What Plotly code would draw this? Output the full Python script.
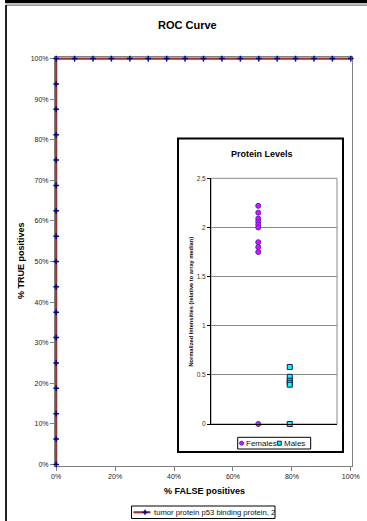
import plotly.graph_objects as go

# ---- data ----
roc_fpr = [0.0] * 17 + [i / 16 for i in range(1, 17)]
roc_tpr = [i / 16 for i in range(17)] + [1.0] * 16
roc_name = "tumor protein p53 binding protein, 2"

female_vals = [2.22, 2.15, 2.09, 2.06, 2.03, 2.00, 1.85, 1.80, 1.75, 0.0]
male_vals = [0.58, 0.48, 0.44, 0.42, 0.40, 0.0]
group_names = ["Females", "Males"]
group_pos = [1, 2]

x_ticks = [0, 0.2, 0.4, 0.6, 0.8, 1.0]
y_ticks = [i / 10 for i in range(11)]
inset_ticks = [0, 0.5, 1, 1.5, 2, 2.5]
inset_ticktext = ["0", "0.5", "1", "1.5", "2", "2.5"]

W, H = 367, 521
L, R, T, B = 55, 352, 57, 466

RED = "#993333"
NAVY = "#000080"
F_FILL, F_LINE = "#FF00FF", "#3333CC"
M_FILL, M_LINE = "#00FFFF", "#1A1A4D"


def px(x):
    return (x - L) / (R - L)


def py(y):
    return (B - y) / (B - T)


FONT = "Liberation Sans, Arial, sans-serif"
PAD = 0.004

fig = go.Figure()

fig.add_trace(go.Scatter(
    x=roc_fpr, y=roc_tpr, mode="lines+markers", name=roc_name,
    line=dict(color=RED, width=2.2),
    marker=dict(symbol="cross-thin", size=4, color=NAVY,
                line=dict(color=NAVY, width=1.5)),
    cliponaxis=False, showlegend=False, xaxis="x", yaxis="y",
))

fig.add_trace(go.Scatter(
    x=[group_pos[0]] * len(female_vals), y=female_vals, mode="markers",
    name=group_names[0],
    marker=dict(symbol="circle", size=5, color=F_FILL,
                line=dict(color=F_LINE, width=1)),
    cliponaxis=False, showlegend=False, xaxis="x2", yaxis="y2",
))
fig.add_trace(go.Scatter(
    x=[group_pos[1]] * len(male_vals), y=male_vals, mode="markers",
    name=group_names[1],
    marker=dict(symbol="square", size=5, color=M_FILL,
                line=dict(color=M_LINE, width=1)),
    cliponaxis=False, showlegend=False, xaxis="x2", yaxis="y2",
))


def prect(x0, y0, x1, y1, **kw):
    return dict(type="rect", xref="paper", yref="paper",
                x0=px(x0), x1=px(x1), y0=py(y1), y1=py(y0), **kw)


def pline(x0, y0, x1, y1, **kw):
    return dict(type="line", xref="paper", yref="paper",
                x0=px(x0), x1=px(x1), y0=py(y0), y1=py(y1), **kw)


shapes = [
    # outer page lines
    prect(5, 0, 367, 3.3, fillcolor="black", line=dict(width=0), layer="below"),
    pline(6, 5.2, 367, 5.2, line=dict(color="#777777", width=1.2), layer="below"),
    pline(6, 5, 6, 521, line=dict(color="#222222", width=2), layer="below"),
    # inset box
    prect(178, 138.5, 343, 452, fillcolor="white",
          line=dict(color="black", width=2), layer="below"),
    # inset plot area border
    dict(type="rect", xref="x2 domain", yref="y2 domain", x0=0, x1=1, y0=0, y1=1,
         line=dict(color="#888888", width=1), layer="below"),
    # main legend box + swatch
    prect(131.5, 506, 275, 518.5, fillcolor="white", line=dict(color="black", width=1)),
    pline(133.5, 512.3, 150.5, 512.3, line=dict(color=RED, width=2.2)),
    pline(142.5, 512.3, 147.5, 512.3, line=dict(color=NAVY, width=1.5)),
    pline(145, 509.8, 145, 514.8, line=dict(color=NAVY, width=1.5)),
    # inset legend box + swatches
    prect(237.7, 437.3, 310.7, 449, fillcolor="white", line=dict(color="black", width=1)),
    dict(type="circle", xref="paper", yref="paper", x0=px(239.6), x1=px(243.6),
         y0=py(445.2), y1=py(441.2), fillcolor=F_FILL, line=dict(color=F_LINE, width=1)),
    prect(277.3, 441.2, 281.3, 445.2, fillcolor=M_FILL, line=dict(color=M_LINE, width=1)),
]


def ann(text, x, y, size, xanchor="center", angle=0, color="black"):
    return dict(text=text, xref="paper", yref="paper", x=px(x), y=py(y),
                xanchor=xanchor, yanchor="middle", textangle=angle,
                showarrow=False, font=dict(size=size, color=color, family=FONT))


annotations = [
    ann("<b>ROC Curve</b>", 187, 25, 11),
    ann("<b>% FALSE positives</b>", 204, 491, 9),
    ann("<b>% TRUE positives</b>", 21, 261, 9, angle=-90),
    ann("<b>Protein Levels</b>", 262, 153.5, 9),
    ann("<b>Normalized Intensities (relative to array median)</b>", 190.5, 302, 5.7,
        angle=-90),
    ann(roc_name, 151.5, 512.3, 7.7, xanchor="left", color="#111111"),
    ann(group_names[0], 244, 443.2, 8, xanchor="left", color="#111111"),
    ann(group_names[1], 282, 443.2, 8, xanchor="left", color="#111111"),
]

axis_common = dict(showgrid=False, zeroline=False, showline=True, linecolor="#808080",
                   linewidth=1, mirror=True, ticks="outside", ticklen=4,
                   tickcolor="#808080", tickfont=dict(size=7, color="#222222"),
                   layer="below traces", tickformat=".0%")

fig.update_layout(
    width=W, height=H,
    margin=dict(l=L, r=W - R, t=T, b=H - B, autoexpand=False),
    paper_bgcolor="white", plot_bgcolor="rgba(0,0,0,0)",
    font=dict(family=FONT, color="black"),
    showlegend=False,
    xaxis=dict(range=[-PAD, 1 + PAD], tickvals=x_ticks, **axis_common),
    yaxis=dict(range=[-PAD, 1 + PAD], tickvals=y_ticks, **axis_common),
    xaxis2=dict(domain=[px(211), px(337)], anchor="y2", range=[-0.5, 3.5],
                showticklabels=False, showgrid=False, zeroline=False,
                showline=True, linecolor="black", linewidth=1, ticks=""),
    yaxis2=dict(domain=[py(424), py(178.3)], anchor="x2", range=[0, 2.5],
                tickvals=inset_ticks, ticktext=inset_ticktext,
                showgrid=True, gridcolor="#888888", gridwidth=1, zeroline=False,
                showline=True, linecolor="black", linewidth=1,
                ticks="outside", ticklen=3, tickcolor="black",
                tickfont=dict(size=6.5, color="#333333")),
    shapes=shapes,
    annotations=annotations,
)

fig.write_html("out.html")
